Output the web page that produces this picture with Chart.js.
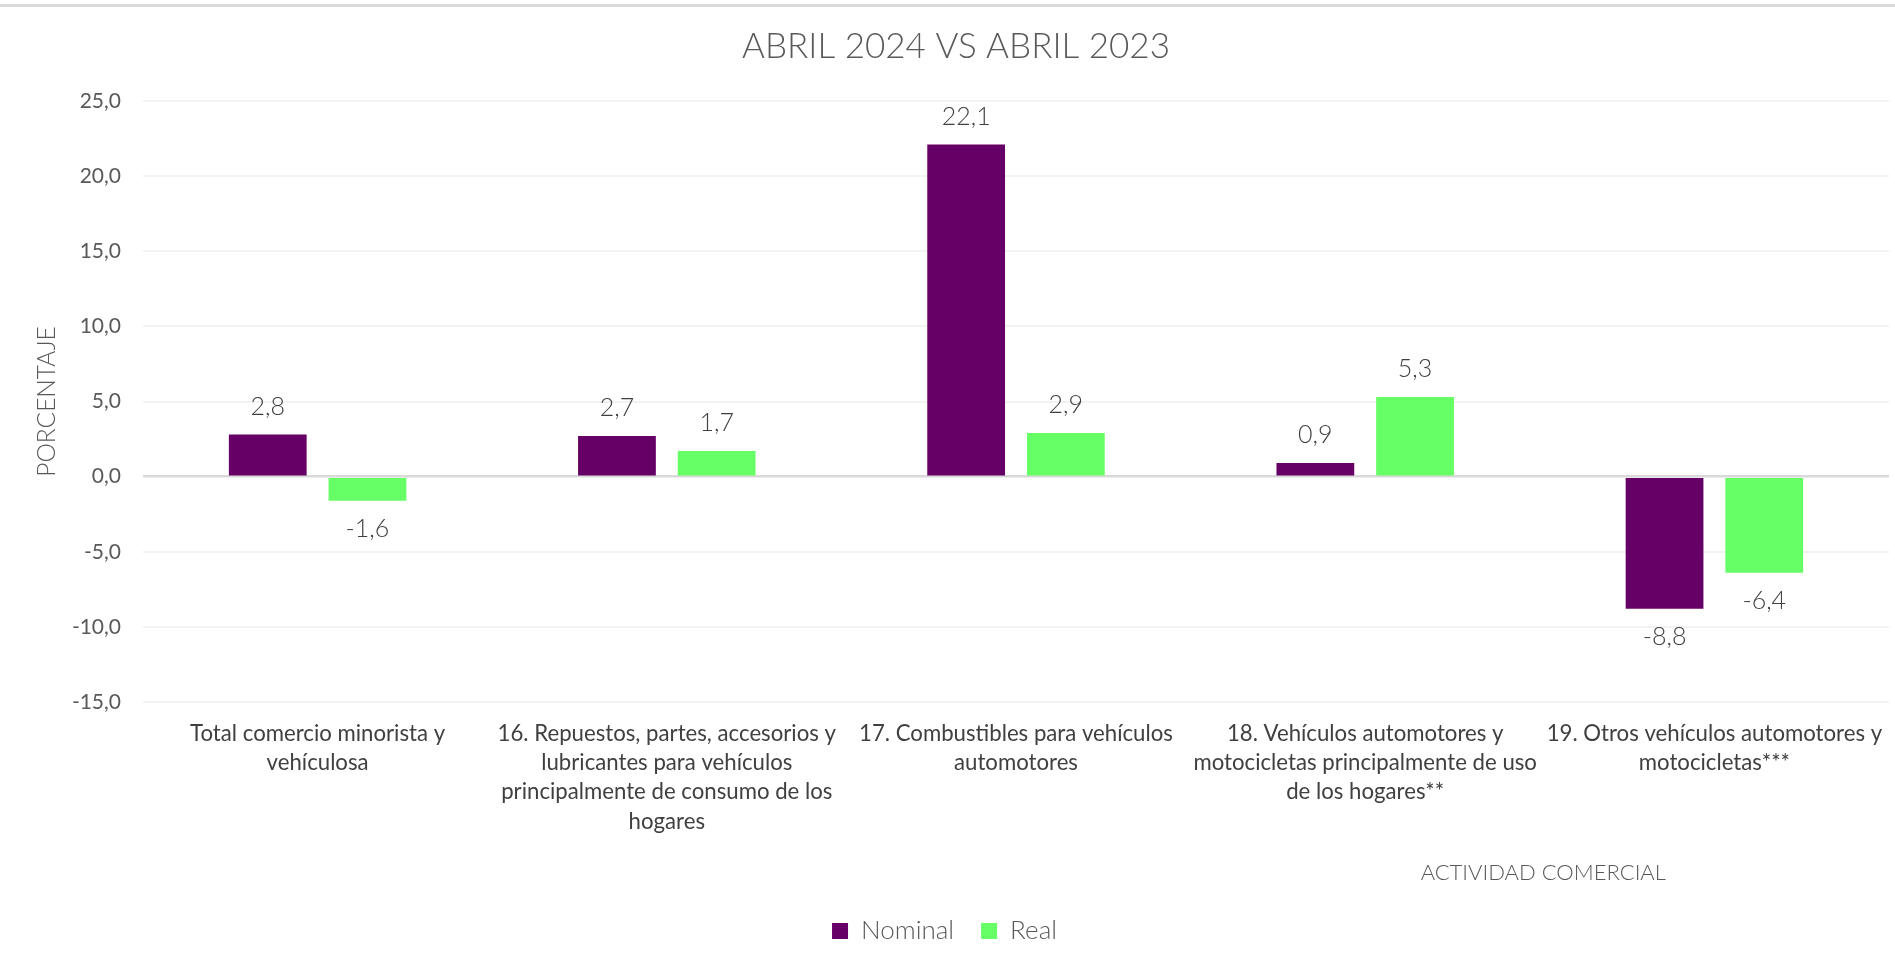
<!DOCTYPE html>
<html>
<head>
<meta charset="utf-8">
<script src="https://cdn.jsdelivr.net/npm/chart.js@4.4.1/dist/chart.umd.min.js"></script>
<style>
html,body{margin:0;padding:0;background:#fff;}
#wrap{position:relative;width:1895px;height:968px;overflow:hidden;}
#topline{position:absolute;left:0;top:4px;width:1895px;height:3px;background:#d9d9d9;}
canvas{position:absolute;left:0;top:0;}
</style>
</head>
<body>
<div id="wrap">
<canvas id="c" width="1895" height="968"></canvas>
<div id="topline"></div>
</div>
<script>
const categories = [
  ["Total comercio minorista y", "vehículosa"],
  ["16. Repuestos, partes, accesorios y", "lubricantes para vehículos", "principalmente de consumo de los", "hogares"],
  ["17. Combustibles para vehículos", "automotores"],
  ["18. Vehículos automotores y", "motocicletas principalmente de uso", "de los hogares**"],
  ["19. Otros vehículos automotores y", "motocicletas***"]
];
const nominalValues = [2.8, 2.7, 22.1, 0.9, -8.8];
const realValues = [-1.6, 1.7, 2.9, 5.3, -6.4];
const yTickMin = -15;
const yTickMax = 25;
const yTickStep = 5;
const titleText = "ABRIL 2024 VS ABRIL 2023";
const yTitleText = "PORCENTAJE";
const xTitleText = "ACTIVIDAD COMERCIAL";
const seriesNames = ["Nominal", "Real"];

const fmt = v => v.toFixed(1).replace('.', ',');

const valueLabels = {
  id: 'valueLabels',
  afterDatasetsDraw(chart) {
    const ctx = chart.ctx;
    ctx.save();
    ctx.font = '300 25px Lato';
    ctx.fillStyle = '#404040';
    ctx.textAlign = 'center';
    ctx.textBaseline = 'middle';
    chart.data.datasets.forEach((ds, di) => {
      const meta = chart.getDatasetMeta(di);
      meta.data.forEach((bar, i) => {
        const v = ds.data[i];
        const y = v >= 0 ? bar.y - 28 : bar.y + 28;
        ctx.fillText(fmt(v), bar.x, y);
      });
    });
    ctx.restore();
  }
};

const texts = {
  id: 'texts',
  afterDraw(chart) {
    const ctx = chart.ctx;
    const a = chart.chartArea;
    ctx.save();
    ctx.textAlign = 'center';
    ctx.textBaseline = 'middle';
    ctx.fillStyle = '#595959';
    ctx.font = '300 35px Lato';
    ctx.fillText(titleText, 956, 47);
    ctx.font = '300 22px Lato';
    ctx.fillText(xTitleText, a.left + (a.right - a.left) * 0.802, 873);
    ctx.restore();
  }
};

new Chart(document.getElementById('c'), {
  type: 'bar',
  data: {
    labels: categories,
    datasets: [
      { label: seriesNames[0], data: nominalValues, backgroundColor: '#660066', borderWidth: 0,
        categoryPercentage: 0.571, barPercentage: 0.78 },
      { label: seriesNames[1], data: realValues, backgroundColor: '#66FF66', borderWidth: 0,
        categoryPercentage: 0.571, barPercentage: 0.78 }
    ]
  },
  options: {
    responsive: false,
    animation: false,
    devicePixelRatio: 1,
    layout: { padding: { left: 0, right: 6, top: 101, bottom: 14 } },
    plugins: {
      title: { display: false },
      legend: {
        position: 'bottom',
        labels: {
          color: '#595959',
          font: { family: 'Lato', size: 26, weight: '300' },
          boxWidth: 16, boxHeight: 16,
          padding: 27
        }
      },
      tooltip: { enabled: false }
    },
    scales: {
      x: {
        grid: { display: false, drawTicks: false },
        border: { display: false },
        ticks: {
          color: '#404040',
          font: { family: 'Lato', size: 22.2, lineHeight: 1.32 },
          padding: 17,
          maxRotation: 0, minRotation: 0, autoSkip: false
        },
        afterFit(scale) { scale.height = 189; scale.paddingLeft = 0; scale.paddingRight = 0; }
      },
      y: {
        min: yTickMin, max: yTickMax,
        grid: {
          drawTicks: false,
          color: ctx => ctx.tick && ctx.tick.value === 0 ? '#d9d9d9' : '#f2f2f2',
          lineWidth: ctx => ctx.tick && ctx.tick.value === 0 ? 2.5 : 2
        },
        border: { display: false },
        ticks: {
          stepSize: yTickStep,
          color: '#595959',
          font: { family: 'Lato', size: 21 },
          padding: 22,
          callback: v => fmt(v)
        },
        title: {
          display: true,
          text: yTitleText,
          color: '#595959',
          font: { family: 'Lato', size: 24.5, weight: '300', lineHeight: 1.2 },
          padding: { top: 32, bottom: 0 }
        },
        afterFit(scale) { scale.width = 143; }
      }
    }
  },
  plugins: [valueLabels, texts]
});
</script>
</body>
</html>
